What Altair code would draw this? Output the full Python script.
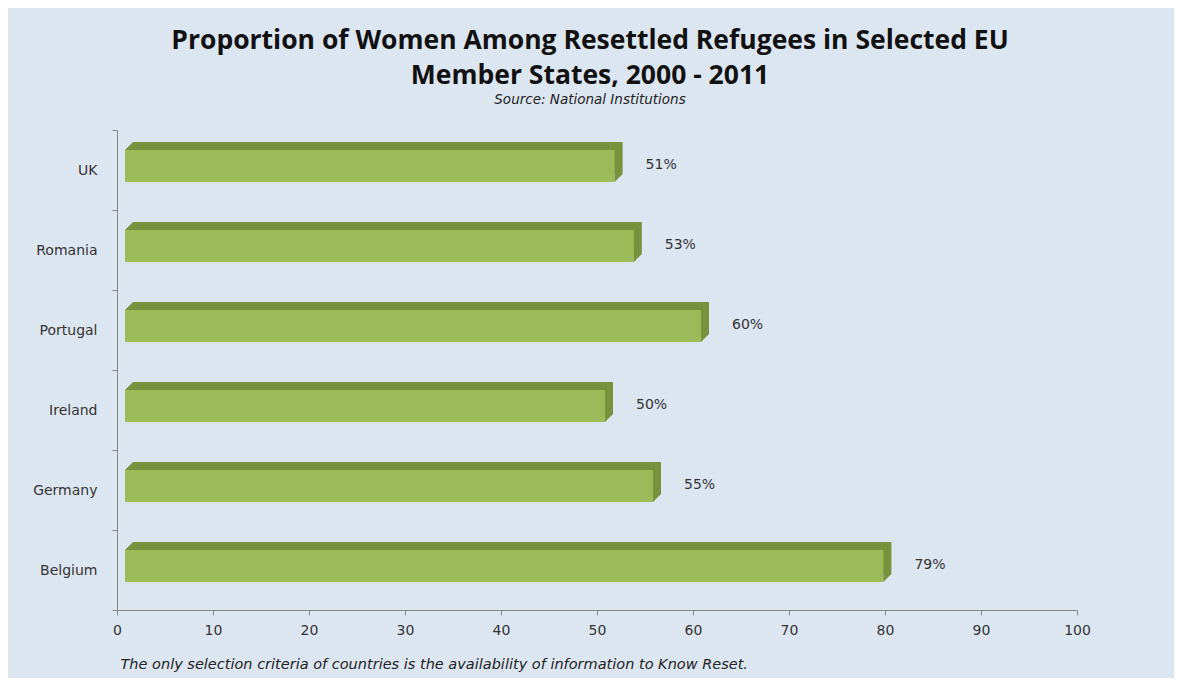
import altair as alt
import pandas as pd

countries = ["UK", "Romania", "Portugal", "Ireland", "Germany", "Belgium"]
shares = [51, 53, 60, 50, 55, 79]
labels = ["51%", "53%", "60%", "50%", "55%", "79%"]
x_ticks = [0, 10, 20, 30, 40, 50, 60, 70, 80, 90, 100]

df = pd.DataFrame({"country": countries, "share": shares, "label": labels, "zero": [0] * len(countries)})

BG = "#dce6f1"
FRONT = "#9bbb59"
DARK = "#76923c"
AXIS = "#868686"
TXT = "#333333"
LBL_FONT = "DejaVu Sans"
NOTE_FONT = "DejaVu Sans"

y_enc = alt.Y("country:N", sort=countries, title=None,
              scale=alt.Scale(paddingInner=0, paddingOuter=0),
              axis=alt.Axis(tickBand="extent", tickSize=5, tickColor=AXIS, domainColor=AXIS,
                            labelFont=LBL_FONT, labelFontSize=14, labelColor=TXT,
                            labelPadding=15))
x_enc = alt.X("zero:Q", title="The only selection criteria of countries is the availability of information to Know Reset.",
              scale=alt.Scale(domain=[0, 100], nice=False),
              axis=alt.Axis(values=x_ticks, tickSize=5, tickColor=AXIS, domainColor=AXIS, grid=False,
                            labelFlush=False,
                            labelFont=LBL_FONT, labelFontSize=14, labelColor=TXT, labelPadding=8,
                            titleFont=NOTE_FONT, titleFontStyle="italic", titleFontWeight="normal",
                            titleFontSize=14.5, titleColor="#222222", titleAnchor="start", titleAlign="left",
                            titleBaseline="alphabetic", titleX=3, titleY=58))

y_plain = alt.Y("country:N", sort=countries)

back = alt.Chart(df).mark_bar(color=DARK, size=32, xOffset=16, x2Offset=16, yOffset=-12, y2Offset=-12).encode(
    x=x_enc, x2="share:Q", y=y_enc)
front = alt.Chart(df).mark_bar(color=FRONT, size=32, xOffset=8, x2Offset=8, yOffset=-4, y2Offset=-4).encode(
    x=alt.X("zero:Q"), x2="share:Q", y=y_plain)
left_tri = alt.Chart(df).mark_point(shape="M -1 1 L 1 -1 L 1 1 Z", filled=True, color=DARK, opacity=1,
                                    size=64, strokeWidth=0, xOffset=12, yOffset=-24).encode(
    x=alt.X("zero:Q"), y=y_plain)
right_tri = alt.Chart(df).mark_point(shape="M -1 -1 L 1 -1 L -1 1 Z", filled=True, color=DARK, opacity=1,
                                     size=64, strokeWidth=0, xOffset=12, yOffset=8).encode(
    x=alt.X("share:Q"), y=y_plain)
text = alt.Chart(df).mark_text(align="left", baseline="middle", dx=39, dy=-5, font=LBL_FONT,
                               fontSize=14, color=TXT).encode(
    x=alt.X("share:Q"), y=y_plain, text="label:N")

chart = alt.layer(back, front, left_tri, right_tri, text).properties(
    width=960, height=480,
    title=alt.TitleParams(
        text=["Proportion of Women Among Resettled Refugees in Selected EU", "Member States, 2000 - 2011"],
        subtitle="Source: National Institutions",
        font="Open Sans", fontSize=26.5, fontWeight="bold", color="#111111", lineHeight=35,
        subtitleFont=NOTE_FONT, subtitleFontStyle="italic", subtitleFontSize=13.5, subtitleColor="#222222",
        subtitlePadding=3, anchor="middle", frame="group", dx=-7, offset=17),
    autosize=alt.AutoSizeParams(type="none"),
    padding={"left": 109, "top": 122, "right": 97, "bottom": 68},
    background=BG,
).configure_view(stroke=None)

chart.save("out.html", embed_options={"renderer": "svg", "actions": False})
